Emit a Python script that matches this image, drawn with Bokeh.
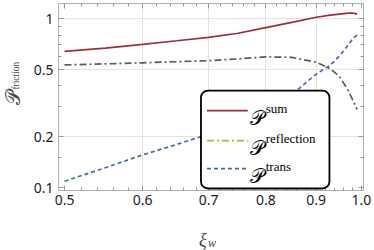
import math
from bokeh.plotting import figure
from bokeh.models import (LogAxis, FixedTicker, CustomJSTickFormatter, Label,
                          BoxAnnotation, Arrow, Range1d)
from bokeh.embed import file_html
from bokeh.resources import INLINE

# ---- data ----
xi_w = [0.5, 0.55, 0.6, 0.65, 0.7, 0.75, 0.8, 0.85, 0.9, 0.93, 0.95, 0.97, 0.98, 0.99]
p_sum = [0.64, 0.67, 0.705, 0.74, 0.775, 0.82, 0.885, 0.95, 1.02, 1.05, 1.065, 1.08, 1.08, 1.065]
p_reflection = [0.532, 0.54, 0.548, 0.556, 0.564, 0.578, 0.594, 0.59, 0.552, 0.505, 0.455, 0.375, 0.33, 0.29]
p_trans = [0.109, 0.131, 0.156, 0.18, 0.207, 0.243, 0.285, 0.355, 0.47, 0.53, 0.6, 0.70, 0.76, 0.80]

x_major = [0.5, 0.6, 0.7, 0.8, 0.9, 1.0]
x_minor = [0.52, 0.54, 0.56, 0.58, 0.62, 0.64, 0.66, 0.68, 0.72, 0.74, 0.76, 0.78,
           0.82, 0.84, 0.86, 0.88, 0.92, 0.94, 0.96, 0.98]
y_major = [0.1, 0.2, 0.5, 1.0]
y_minor = [0.15, 0.3, 0.4, 0.6, 0.7, 0.8, 0.9]

C_SUM = "#9c2f3e"
C_REFL = "#56624a"
C_REFL_LEG = "#b5b33c"
C_TRANS = "#4c66ae"
FRAME = "#b0b0b0"
TICK = "#9a9a9a"

p = figure(width=374, height=250, x_axis_type="log", y_axis_type="log",
           x_range=Range1d(0.493, 1.005), y_range=Range1d(0.096, 1.23),
           output_backend="svg", toolbar_location=None,
           min_border_left=58, min_border_right=11, min_border_top=3,
           min_border_bottom=60)
p.outline_line_color = None
p.background_fill_color = "white"


def style_axis(ax, ticks, minors, labels, fmt_code):
    ax.ticker = FixedTicker(ticks=ticks, minor_ticks=minors)
    ax.axis_line_color = FRAME
    ax.axis_line_width = 1
    ax.major_tick_in = 5
    ax.major_tick_out = 0
    ax.minor_tick_in = 3
    ax.minor_tick_out = 0
    ax.major_tick_line_color = TICK
    ax.minor_tick_line_color = TICK
    if labels:
        ax.formatter = CustomJSTickFormatter(code=fmt_code)
        ax.major_label_text_font = "Noto Sans"
        ax.major_label_text_font_size = "14px"
        ax.major_label_text_color = "#222222"
    else:
        ax.formatter = CustomJSTickFormatter(code="return ''")
        ax.major_label_text_font_size = "0px"
        ax.major_label_standoff = 0


xfmt = "return tick.toFixed(1)"
yfmt = "return tick >= 1 ? tick.toFixed(0) : tick.toFixed(1)"
style_axis(p.xaxis[0], x_major, x_minor, True, xfmt)
style_axis(p.yaxis[0], y_major, y_minor, True, yfmt)
p.xaxis[0].major_label_standoff = 4
p.yaxis[0].major_label_standoff = 5

top = LogAxis()
style_axis(top, x_major, x_minor, False, None)
p.add_layout(top, "above")
right = LogAxis()
style_axis(right, y_major, y_minor, False, None)
p.add_layout(right, "right")

p.xgrid.ticker = FixedTicker(ticks=[0.6, 0.7, 0.8, 0.9])
p.ygrid.ticker = FixedTicker(ticks=[0.2, 0.5, 1.0])
p.xgrid.grid_line_color = "#e3e3e3"
p.ygrid.grid_line_color = "#e3e3e3"

p.line(xi_w, p_sum, line_color=C_SUM, line_width=1.7)
p.line(xi_w, p_reflection, line_color=C_REFL, line_width=1.7, line_dash="7 3 2 3")
p.line(xi_w, p_trans, line_color=C_TRANS, line_width=1.7, line_dash="4 3")


# ---- helpers to place decorations at reference pixel positions ----
def px2x(px):
    return math.exp(math.log(0.5) + (px - 64) / 430.0)


def py2y(py):
    return 10 ** (-(py - 18) / 169.0)


# legend box
p.add_layout(BoxAnnotation(left=px2x(201), right=px2x(330), top=py2y(90), bottom=py2y(188),
                           fill_color="white", fill_alpha=1.0, line_color="black",
                           line_alpha=1.0, line_width=1.8, border_radius=7))

legend_rows = [
    ("sum", C_SUM, None, 110),
    ("reflection", C_REFL_LEG, "7 3 2 3", 140),
    ("trans", C_TRANS, "4 3", 168),
]
for name, col, dash, yrow in legend_rows:
    kw = dict(end=None, x_start=px2x(207), x_end=px2x(248), y_start=py2y(yrow), y_end=py2y(yrow),
              line_color=col, line_width=1.7)
    if dash:
        kw["line_dash"] = dash
    p.add_layout(Arrow(**kw))
    p.add_layout(Label(x=px2x(250), y=py2y(yrow + 7), text="𝒫", text_font="DejaVu Serif",
                       text_font_size="20px", text_color="black", text_baseline="alphabetic"))
    p.add_layout(Label(x=px2x(266), y=py2y(yrow - 2), text=name, text_font="Liberation Serif",
                       text_font_size="13px", text_color="black", text_baseline="alphabetic"))

# axis labels (placed in side panels so they are not clipped by the frame;
# spread over panels that have spare room so the frame keeps its place)
p.add_layout(Label(x=px2x(199), y=py2y(240), text="ξ", text_font="Liberation Serif",
                   text_font_style="italic", text_font_size="18px",
                   text_baseline="alphabetic"), "below")
p.add_layout(Label(x=px2x(12.5), y=py2y(104), text="𝒫", text_font="DejaVu Serif",
                   text_font_size="20px", angle=math.pi / 2,
                   text_baseline="middle"), "below")
p.add_layout(Label(x=px2x(15), y=py2y(89), text="friction", text_font="Liberation Serif",
                   text_font_size="9.5px", angle=math.pi / 2,
                   text_baseline="middle"), "left")
p.add_layout(Label(x=px2x(208), y=py2y(243), text="w", text_font="Liberation Serif",
                   text_font_style="italic", text_font_size="12px",
                   text_baseline="alphabetic"), "left")

open("out.html", "w").write(file_html(p, INLINE))
